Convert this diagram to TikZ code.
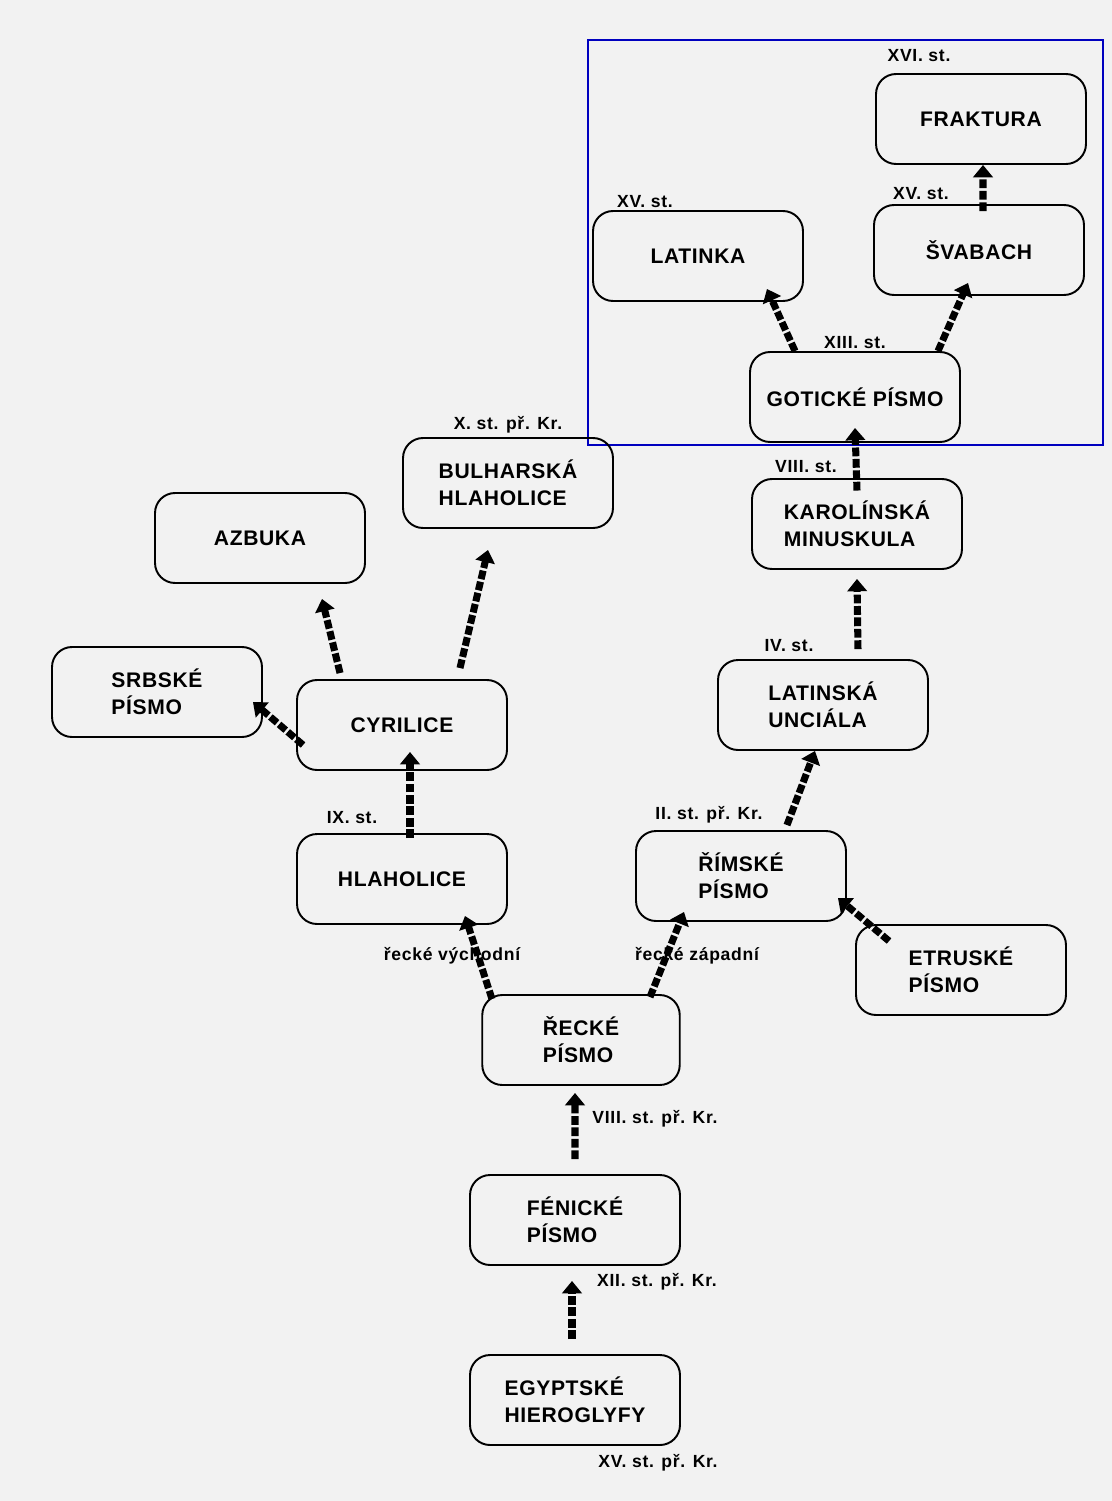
\documentclass[tikz,border=0pt]{standalone}
\usepackage{fontspec}
\setmainfont{Liberation Sans}
\newfontfamily\boxfont[LetterSpace=3]{Liberation Sans}
\newfontfamily\datefont[LetterSpace=4]{Liberation Sans}
\usetikzlibrary{arrows.meta}

\begin{document}
\begin{tikzpicture}[x=0.02cm,y=-0.02cm,
  box/.style={draw,line width=1.1pt,rounded corners=0.4cm,minimum width=4.2cm,
    minimum height=1.8cm,align=left,font=\boxfont\bfseries\fontsize{12}{15.5}\selectfont},
  lbl/.style={font=\datefont\bfseries\fontsize{10}{12}\selectfont},
  arr/.style={line width=4pt,dash pattern=on 5pt off 1.5pt,
    -{Triangle[width=11pt,length=7pt]}}]
\fill[black!5] (0,0) rectangle (1112,1501);
\draw[blue!75!black,line width=1pt] (588,40) rectangle (1103,445);
% boxes
\node[box] (fraktura) at (981,119) {FRAKTURA};
\node[box] (svabach) at (979,250) {ŠVABACH};
\node[box] (latinka) at (698,256) {LATINKA};
\node[box] (goticke) at (855,397) {GOTICKÉ PÍSMO};
\node[box] (karolinska) at (857,524) {KAROLÍNSKÁ\\MINUSKULA};
\node[box] (uncial) at (823,705) {LATINSKÁ\\UNCIÁLA};
\node[box] (bulharska) at (508,483) {BULHARSKÁ\\HLAHOLICE};
\node[box] (azbuka) at (260,538) {AZBUKA};
\node[box] (srbske) at (157,692) {SRBSKÉ\\PÍSMO};
\node[box] (cyrilice) at (402,725) {CYRILICE};
\node[box] (hlaholice) at (402,879) {HLAHOLICE};
\node[box] (rimske) at (741,876) {ŘÍMSKÉ\\PÍSMO};
\node[box] (etruske) at (961,970) {ETRUSKÉ\\PÍSMO};
\node[box,minimum width=3.95cm] (recke) at (581,1040) {ŘECKÉ\\PÍSMO};
\node[box] (fenicke) at (575,1220) {FÉNICKÉ\\PÍSMO};
\node[box] (egyptske) at (575,1400) {EGYPTSKÉ\\HIEROGLYFY};
% dates
\node[lbl] (d16) at (919,56) {XVI. st.};
\node[lbl] (d15a) at (645,202) {XV. st.};
\node[lbl] (d15b) at (921,194) {XV. st.};
\node[lbl] (d13) at (855,343) {XIII. st.};
\node[lbl] (d8) at (806,467) {VIII. st.};
\node[lbl] (d4) at (789,646) {IV. st.};
\node[lbl] (d10) at (508,425) {X. st. př. Kr.};
\node[lbl] (d9) at (352,818) {IX. st.};
\node[lbl] (d2) at (709,815) {II. st. př. Kr.};
\node[lbl] (vych) at (452,956) {řecké východní};
\node[lbl] (zap) at (697,956) {řecké západní};
\node[lbl] (d8p) at (655,1119) {VIII. st. př. Kr.};
\node[lbl] (d12p) at (657,1282) {XII. st. př. Kr.};
\node[lbl] (d15p) at (658,1463) {XV. st. př. Kr.};
% arrows
\draw[arr] ([xshift=0.08cm,yshift=-0.14cm]svabach.north) -- ([xshift=0.04cm]fraktura.south);
\draw[arr] ([xshift=-1.2cm]goticke.north) -- ([xshift=-0.74cm,yshift=0.26cm]latinka.south east);
\draw[arr] ([xshift=1.66cm]goticke.north) -- ([xshift=-0.22cm,yshift=0.26cm]svabach.south);
\draw[arr] ([yshift=-0.25cm]karolinska.north) -- ([yshift=0.3cm]goticke.south);
\draw[arr] ([xshift=0.7cm,yshift=0.2cm]uncial.north) -- ([yshift=-0.18cm]karolinska.south);
\draw[arr] ([xshift=0.92cm,yshift=0.1cm]rimske.north) -- ([xshift=-0.16cm]uncial.south);
\draw[arr] ([xshift=0.68cm,yshift=-0.34cm]etruske.north west) -- ([xshift=-0.18cm,yshift=-0.44cm]rimske.east);
\draw[arr] ([xshift=1.38cm,yshift=-0.06cm]recke.north) -- ([xshift=-1.14cm,yshift=0.2cm]rimske.south);
\draw[arr] ([xshift=-1.78cm,yshift=-0.1cm]recke.north) -- ([xshift=1.26cm,yshift=0.18cm]hlaholice.south);
\draw[arr] ([xshift=0.16cm,yshift=-0.1cm]hlaholice.north) -- ([xshift=0.16cm,yshift=0.38cm]cyrilice.south);
\draw[arr] ([xshift=0.14cm,yshift=-0.4cm]cyrilice.west) -- ([xshift=-0.2cm,yshift=-0.2cm]srbske.east);
\draw[arr] ([xshift=-1.24cm,yshift=0.12cm]cyrilice.north) -- ([xshift=1.24cm,yshift=-0.3cm]azbuka.south);
\draw[arr] ([xshift=1.16cm,yshift=0.22cm]cyrilice.north) -- ([xshift=-0.4cm,yshift=-0.42cm]bulharska.south);
\draw[arr] ([yshift=0.3cm]fenicke.north) -- ([xshift=-0.12cm,yshift=-0.14cm]recke.south);
\draw[arr] ([xshift=-0.06cm,yshift=0.3cm]egyptske.north) -- ([xshift=-0.06cm,yshift=-0.3cm]fenicke.south);
\end{tikzpicture}
\end{document}
